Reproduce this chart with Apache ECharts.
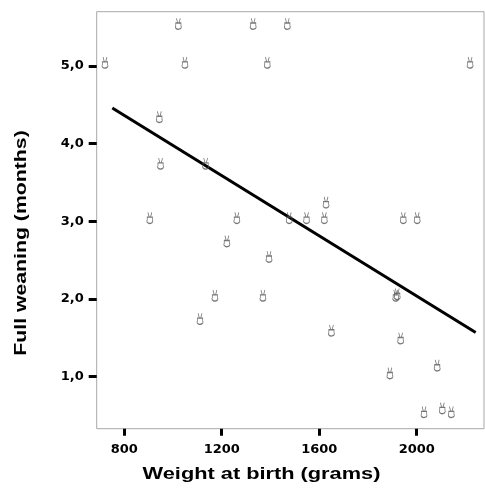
<!DOCTYPE html>
<html><head><meta charset="utf-8">
<script src="https://cdn.jsdelivr.net/npm/echarts@6/dist/echarts.min.js"></script>
<style>html,body{margin:0;padding:0;background:#fff}#c{width:485px;height:500px}</style>
</head><body><div id="c"></div>
<script>
const weightGrams = [721,1022,1329,1469,1049,1387,2219,944,949,1134,905,1262,1221,1394,1172,1369,1111,1477,1548,1621,1628,1945,2002,1914,1920,1650,1934,2084,1890,2030,2105,2142];
const weaningMonths = [5.0,5.5,5.5,5.5,5.0,5.0,5.0,4.3,3.7,3.7,3.0,3.0,2.7,2.5,2.0,2.0,1.7,3.0,3.0,3.0,3.2,3.0,3.0,2.0,2.02,1.55,1.45,1.1,1.0,0.5,0.55,0.5];
const fitX = [751, 2242];
const fitY = [4.46, 1.57];
const xTicks = [800,1200,1600,2000];
const yTicks = [1,2,3,4,5];
const xTitle = 'Weight at birth (grams)';
const yTitle = 'Full weaning (months)';

const chart = echarts.init(document.getElementById('c'), null, {renderer:'canvas'});
const font = '"DejaVu Sans", sans-serif';
const tfont = '"Liberation Sans", Arial, sans-serif';
const marker = 'path://M2,0 L3,5 M5,0 L4,5 M1.5,5 L5.5,5 L5.5,8 A2.3,2.3 0 1 1 1.5,8 Z';
chart.setOption({
  animation:false,
  grid:{left:96.7,right:1,top:11.7,bottom:71.3,show:true,borderColor:'#a8a8a8',borderWidth:1},
  xAxis:{type:'value',min:687,max:2276,
    axisLine:{show:false},splitLine:{show:false},
    axisTick:{show:true,customValues:xTicks,length:7,lineStyle:{color:'#000',width:3}},
    axisLabel:{customValues:xTicks,margin:14,fontFamily:font,fontWeight:'bold',fontSize:13,color:'#000',
      formatter:v=>String(v)}},
  yAxis:{type:'value',min:0.33,max:5.7,
    axisLine:{show:false},splitLine:{show:false},
    axisTick:{show:true,customValues:yTicks,length:8,lineStyle:{color:'#000',width:3}},
    axisLabel:{customValues:yTicks,margin:13,fontFamily:font,fontWeight:'bold',fontSize:13,color:'#000',
      formatter:v=>v.toFixed(1).replace('.',',')}},
  graphic:[
    {type:'text',x:261.5,y:474,scaleX:1.28,style:{text:xTitle,font:'bold 17px '+tfont,fill:'#000',align:'center',verticalAlign:'middle'}},
    {type:'text',x:21,y:243,rotation:Math.PI/2,scaleX:1.25,style:{text:yTitle,font:'bold 17px '+tfont,fill:'#000',align:'center',verticalAlign:'middle'}}
  ],
  series:[
    {type:'line',data:fitX.map((x,i)=>[x,fitY[i]]),symbol:'none',lineStyle:{color:'#000',width:3},z:3},
    {type:'scatter',data:weightGrams.map((x,i)=>[x,weaningMonths[i]]),symbol:marker,symbolSize:[6,11],symbolOffset:[0,-3.5],
      itemStyle:{color:'rgba(0,0,0,0)',borderColor:'#555',borderWidth:1},z:4}
  ]
});
</script></body></html>
